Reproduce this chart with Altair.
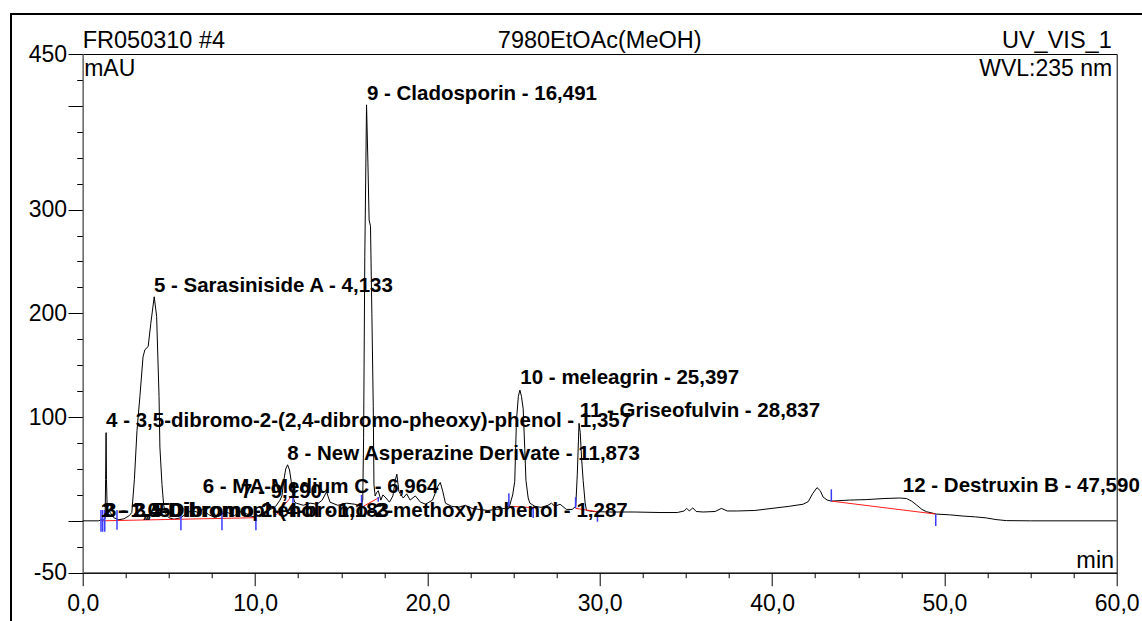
import altair as alt
import pandas as pd

FONT = "Liberation Sans"

# ---- chromatogram trace: retention time (min) and absorbance (mAU) ----
trace_t = [0, 0.9, 1.02, 1.1, 1.2, 1.3, 1.33, 1.357, 1.38, 1.42, 1.6, 1.8, 2.1, 2.4, 2.7, 2.85,
           3.0, 3.15, 3.32, 3.5, 3.61, 3.8, 3.95, 4.15, 4.29, 4.43, 4.48, 4.6, 4.7, 4.8, 5.0,
           5.3, 5.7, 6.0, 6.35, 6.7, 6.96, 7.3, 7.7, 8.1, 8.4, 8.8, 9.19, 9.5, 9.8, 10.1, 10.5,
           10.9, 11.2, 11.45, 11.56, 11.66, 11.78, 11.89, 12.0, 12.1, 12.18, 12.3, 12.4, 12.8,
           13.2, 13.6, 13.9, 14.15, 14.35, 14.8, 15.3, 15.8, 16.15, 16.25, 16.3, 16.37, 16.47,
           16.55, 16.62, 16.7, 16.78, 16.86, 16.9, 16.97, 17.05, 17.15, 17.3, 17.42, 17.6, 17.8,
           18.0, 18.15, 18.23, 18.35, 18.6, 18.8, 19.0, 19.3, 19.6, 19.9, 20.3, 20.6, 20.75,
           20.9, 21.05, 21.4, 21.8, 22.2, 22.6, 23.0, 23.5, 24.0, 24.5, 24.78, 24.95, 25.07,
           25.17, 25.28, 25.37, 25.46, 25.56, 25.65, 25.72, 25.85, 25.95, 26.24, 26.6, 27.0,
           27.2, 27.4, 27.7, 28.07, 28.4, 28.61, 28.7, 28.8, 28.87, 28.95, 29.04, 29.15, 29.23,
           29.6, 30.5, 32.0, 33.5, 34.5, 34.9, 35.05, 35.2, 35.4, 35.6, 36.0, 36.7, 37.06, 37.4,
           38.0, 39.0, 40.0, 41.0, 41.8, 42.1, 42.35, 42.61, 42.8, 42.96, 43.2, 43.44, 44.5,
           45.5, 46.5, 47.4, 47.8, 48.1, 48.37, 48.7, 48.96, 49.54, 50.3, 51.08, 51.8, 52.44,
           53.0, 53.6, 55.0, 60.0]
trace_v = [0, 0, 0.5, 1.5, 1, 2, 40, 85, 40, 12, 8, 3, 1, 2, 5, 8,
           40, 87, 120, 158, 165, 168, 190, 216, 197, 120, 71, 35, 15, 7, 3,
           1.5, 3, 7, 10, 8, 11, 6, 3, 7, 8, 5, 9, 7, 4, 4, 8,
           11, 14, 20, 24, 38, 50, 54, 49, 38, 25, 18, 17, 15,
           17, 16, 20, 28, 18, 15, 17, 16, 14, 20, 80, 255, 401,
           345, 290, 284, 200, 110, 35, 24, 27, 29, 20, 25, 22, 18,
           24, 40, 45, 28, 22, 26, 20, 24, 18, 16, 20, 33, 37,
           28, 17, 14, 13, 15, 12, 11, 10, 11, 12, 15, 25, 38,
           97, 120, 126, 120, 108, 70, 39, 22, 17, 14, 13, 15,
           17, 14, 16, 11, 11, 14, 45, 94, 85, 60, 39, 18, 10,
           9, 8.5, 8.5, 8, 8, 9.5, 12, 9.5, 12.5, 9, 8.5, 9, 12, 9.5,
           9.5, 10, 12, 14, 16, 18.5, 26, 32, 29, 23, 20, 19, 20,
           20.5, 21.5, 22, 21.5, 19, 15.5, 11, 8.8, 6.5, 5.8, 4.6, 3.8, 2.8,
           1.2, 0.2, 0, 0]

# ---- integration baselines (red) ----
base_seg = [1, 1, 2, 2, 3, 3, 4, 4, 5, 5, 6, 6]
base_t = [1.06, 10.05, 11.25, 12.18, 16.28, 17.15, 24.78, 26.14, 28.61, 29.87, 43.44, 49.5]
base_v = [0, 3, 6, 25, 14, 22, 14, 12.7, 12, 8.8, 19, 6.5]

# ---- peak delimiters (blue) ----
delim_t = [1.06, 1.16, 1.28, 1.99, 5.7, 8.08, 10.05, 12.2, 16.18, 17.15, 24.73, 26.14,
           28.6, 29.87, 43.44, 49.5]
delim_lo = [-10.5, -10.5, -10.5, -8.5, -9, -9, -9, 15, 14, 18.4, 13, 2.7, 12, -0.9, 19, -5]
delim_hi = [10.4, 10.4, 10.4, 10.4, 10.4, 9, 10.4, 27, 25, 23, 26.5, 12.3, 22.7, 9.7, 30.4, 6.3]

# ---- peak labels ----
label_text = [
    "1 - 1,050",
    "2 - 2,4-Dibromophenol - 1,183",
    "3 - 3,5-Dibromo-2-(4-bromo-2-methoxy)-phenol - 1,287",
    "4 - 3,5-dibromo-2-(2,4-dibromo-pheoxy)-phenol - 1,357",
    "5 - Sarasiniside A - 4,133",
    "6 - MA-Medium C - 6,964",
    "7 - 9,190",
    "8 - New Asperazine Derivate - 11,873",
    "9 - Cladosporin - 16,491",
    "10 - meleagrin - 25,397",
    "11 - Griseofulvin - 28,837",
    "12 - Destruxin B - 47,590",
]
label_t = [1.05, 1.183, 1.287, 1.357, 4.133, 6.964, 9.19, 11.873, 16.491, 25.397, 28.837, 47.59]
label_v = [3.7, 3.7, 3.7, 90.7, 221, 26.5, 21.7, 58.6, 405.8, 132, 100.4, 27.5]

# ---- axis ticks ----
x_tick_vals = [0, 2.5, 5, 7.5, 10, 12.5, 15, 17.5, 20, 22.5, 25, 27.5, 30, 32.5, 35, 37.5,
               40, 42.5, 45, 47.5, 50, 52.5, 55, 57.5, 60]
y_tick_vals = [-50, -25, 0, 25, 50, 75, 100, 125, 150, 175, 200, 225, 250, 275, 300, 325,
               350, 375, 400, 425, 450]
y_long = [-50, 0, 100, 200, 300, 400, 450]
y_labeled = [-50, 100, 200, 300, 450]

W, H = 1034, 518.7

xs = alt.Scale(domain=[0, 60], nice=False, zero=False)
ys = alt.Scale(domain=[-50, 450], nice=False, zero=False)

x_axis = alt.Axis(
    values=x_tick_vals, title=None, grid=False,
    domainColor="black", tickColor="black",
    tickSize={"condition": {"test": "datum.value % 10 === 0", "value": 13}, "value": 5},
    labelExpr="datum.value % 10 === 0 ? replace(format(datum.value, '.1f'), '.', ',') : ''",
    labelFont=FONT, labelFontSize=23, labelColor="black", labelPadding=7,
    labelFlush=False, labelOverlap=False,
)
y_axis = alt.Axis(
    values=y_tick_vals, title=None, grid=False,
    domainColor="#808080", tickColor="black",
    tickSize={"condition": {"test": "indexof(%s, datum.value) >= 0" % y_long, "value": 14.7},
              "value": 6},
    labelExpr="indexof(%s, datum.value) >= 0 ? '' + datum.value : ''" % y_labeled,
    labelFont=FONT, labelFontSize=23, labelColor="black", labelPadding=1.5,
    labelFlush=False, labelOverlap=False,
)

X = alt.X("t:Q", scale=xs, axis=x_axis)
Y = alt.Y("v:Q", scale=ys, axis=y_axis)

frame = alt.Chart(pd.DataFrame({"k": [0]})).mark_rect(
    filled=False, fillOpacity=0, stroke="black", strokeWidth=2
).encode(x=alt.value(-71.7), x2=alt.value(1200), y=alt.value(-40), y2=alt.value(700))

trace = alt.Chart(pd.DataFrame({"t": trace_t, "v": trace_v})).mark_line(
    color="black", strokeWidth=1
).encode(x=X, y=Y)

baselines = alt.Chart(pd.DataFrame({"seg": base_seg, "t": base_t, "v": base_v})).mark_line(
    color="#ff1a1a", strokeWidth=1
).encode(x=X, y=Y, detail="seg:N")

delims = alt.Chart(pd.DataFrame({"t": delim_t, "v": delim_lo, "hi": delim_hi})).mark_rule(
    color="#3c3cff", strokeWidth=1.5
).encode(x=X, y=Y, y2="hi:Q")

labels = alt.Chart(pd.DataFrame({"t": label_t, "v": label_v, "s": label_text})).mark_text(
    align="left", baseline="alphabetic", font=FONT, fontSize=20.5, fontWeight="bold", color="black"
).encode(x=X, y=Y, text="s:N")


def note(text, px, py, align, size):
    return alt.Chart(pd.DataFrame({"s": [text]})).mark_text(
        align=align, baseline="alphabetic", font=FONT, fontSize=size, color="black"
    ).encode(x=alt.value(px), y=alt.value(py), text="s:N")


notes = [
    note("FR050310 #4", 0, -5.7, "left", 23.5),
    note("7980EtOAc(MeOH)", W / 2, -5.7, "center", 23.5),
    note("UV_VIS_1", W - 5, -5.7, "right", 23.5),
    note("mAU", 1.5, 22, "left", 23),
    note("WVL:235 nm", W - 4.5, 22, "right", 23),
    note("min", W - 2.5, H - 4.4, "right", 23.5),
]

chart = alt.layer(frame, trace, baselines, delims, labels, *notes).properties(
    width=W, height=H,
    autosize=alt.AutoSizeParams(type="none"),
    padding={"left": 82.7, "top": 54, "right": 25.3, "bottom": 48.3},
    background="white",
).configure_view(stroke="black", strokeWidth=1)

chart.save("out.html", embed_options={"renderer": "svg", "actions": False})
